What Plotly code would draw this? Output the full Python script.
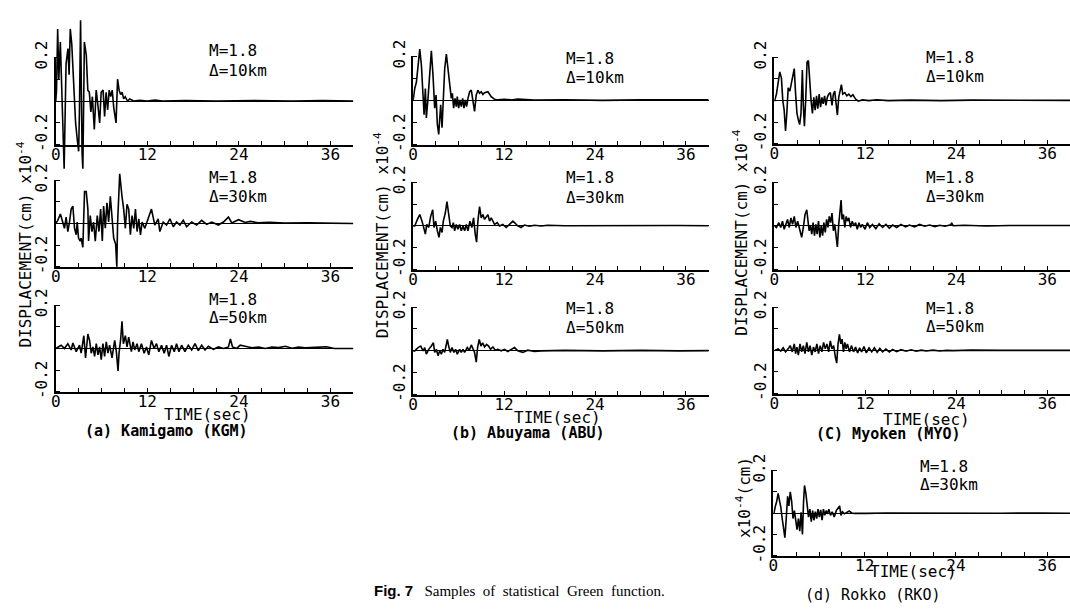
import plotly.graph_objects as go

# Displacement traces (x1e-4 cm) as (time in sec, value) turning points
KGM_10 = [(0.0, 0.0), (0.1, 0.05), (0.25, 0.33), (0.4, 0.1), (0.6, 0.27), (0.8, 0.0), (0.9, -0.05), (1.1, -0.31),
          (1.35, 0.17), (1.6, 0.24), (1.75, 0.12), (1.9, 0.33), (2.1, 0.26), (2.4, 0.0), (2.6, -0.1), (2.8, -0.17),
          (3.0, -0.23), (3.1, -0.05), (3.25, 0.37), (3.45, -0.24), (3.55, -0.31), (3.75, 0.27), (4.0, 0.21),
          (4.2, 0.05), (4.4, 0.04), (4.6, -0.05), (4.8, 0.02), (5.05, -0.13), (5.3, 0.05), (5.5, -0.01),
          (5.75, -0.1), (5.95, 0.04), (6.2, 0.05), (6.4, -0.07), (6.6, 0.04), (6.8, -0.04), (7.0, 0.05),
          (7.2, 0.02), (7.4, 0.05), (7.6, -0.03), (7.9, -0.1), (8.1, 0.1), (8.3, 0.05), (8.5, 0.03), (8.7, 0.04),
          (8.9, 0.01), (9.1, 0.02), (9.4, 0.0), (9.7, 0.01), (10.2, 0.0), (11.0, 0.003), (12.0, 0.0),
          (13.0, 0.005), (14.0, 0.0), (17.0, 0.002), (21.0, 0.0), (26.0, 0.002), (31.0, 0.0), (35.0, 0.002),
          (39.0, 0.0)]
KGM_30 = [(0.0, 0.0), (0.26, 0.015), (0.61, 0.044), (0.92, 0.007), (1.14, -0.022), (1.36, 0.03), (1.58, -0.037),
          (1.8, 0.007), (2.02, 0.067), (2.24, 0.081), (2.46, -0.022), (2.68, -0.052), (2.81, 0.007), (2.98, -0.067),
          (3.2, -0.081), (3.33, -0.067), (3.55, -0.11), (3.77, 0.148), (3.99, 0.148), (4.21, 0.067), (4.3, -0.081),
          (4.52, 0.037), (4.74, -0.037), (4.96, 0.007), (5.18, -0.081), (5.44, 0.037), (5.66, -0.037),
          (5.88, 0.067), (6.1, -0.081), (6.27, 0.081), (6.49, -0.022), (6.71, 0.096), (6.93, 0.007), (7.15, 0.126),
          (7.37, 0.037), (7.59, -0.067), (7.85, -0.096), (8.0, -0.2), (8.1, 0.0), (8.38, 0.23), (8.68, 0.126),
          (8.9, 0.067), (9.12, -0.022), (9.34, 0.089), (9.56, 0.067), (9.78, -0.052), (10.0, 0.037),
          (10.22, -0.022), (10.44, 0.067), (10.66, -0.037), (10.88, 0.022), (11.1, -0.052), (11.32, 0.007),
          (11.67, -0.022), (12.1, 0.022), (12.54, 0.067), (12.98, -0.007), (13.42, 0.022), (13.64, -0.037),
          (14.08, 0.007), (14.52, -0.007), (14.96, 0.022), (15.4, -0.015), (15.83, 0.007), (16.27, -0.007),
          (16.71, 0.015), (17.15, -0.015), (17.8, 0.007), (18.46, -0.007), (19.12, 0.015), (19.78, -0.004),
          (20.44, 0.007), (21.3, -0.007), (21.97, 0.007), (22.63, 0.03), (23.07, 0.003), (23.95, 0.018),
          (24.82, 0.005), (25.5, 0.01), (26.5, 0.004), (28.0, 0.006), (30.0, 0.002), (33.0, 0.003),
          (36.0, 0.001), (39.0, 0.0)]
KGM_50 = [(0.0, 0.0), (0.26, 0.007), (0.7, 0.015), (1.14, 0.0), (1.58, 0.022), (2.02, -0.007), (2.24, 0.025),
          (2.68, -0.015), (3.11, 0.015), (3.33, -0.022), (3.68, 0.059), (3.9, -0.044), (4.21, 0.067), (4.43, 0.037),
          (4.65, -0.022), (4.87, 0.007), (5.09, -0.037), (5.31, 0.022), (5.53, -0.03), (5.75, 0.007),
          (5.96, -0.052), (6.18, 0.022), (6.4, -0.037), (6.62, 0.03), (6.84, -0.022), (7.06, 0.015),
          (7.37, -0.044), (7.72, 0.037), (7.94, -0.015), (8.16, -0.104), (8.29, -0.022), (8.51, 0.044),
          (8.68, 0.126), (8.86, 0.022), (9.12, 0.059), (9.34, 0.007), (9.56, 0.052), (9.91, -0.015), (10.13, 0.03),
          (10.35, -0.007), (10.66, 0.022), (10.88, -0.015), (11.23, 0.022), (11.58, -0.022), (11.89, 0.007),
          (12.19, -0.03), (12.54, 0.037), (12.89, 0.0), (13.2, 0.022), (13.51, -0.015), (13.86, 0.015),
          (14.21, -0.022), (14.52, 0.015), (14.82, -0.037), (15.18, 0.015), (15.53, -0.015), (15.83, 0.022),
          (16.14, -0.015), (16.49, 0.015), (16.93, -0.015), (17.37, 0.015), (17.81, -0.007), (18.25, 0.022),
          (18.68, -0.01), (19.12, 0.015), (19.56, -0.007), (20.0, 0.01), (20.66, -0.004), (21.32, 0.007),
          (21.97, 0.0), (22.63, 0.007), (22.89, 0.044), (23.16, 0.007), (23.73, 0.0), (24.17, 0.015),
          (24.82, 0.01), (25.7, 0.003), (26.58, 0.007), (27.46, 0.0), (28.33, 0.007), (29.21, 0.004),
          (30.09, 0.01), (30.96, 0.001), (31.84, 0.007), (32.72, 0.003), (34.0, 0.005), (35.5, 0.008),
          (36.5, 0.0), (39.0, 0.0)]

ABU_10 = [(0.0, 0.0), (0.22, 0.055), (0.44, 0.084), (0.66, 0.173), (0.88, 0.233), (1.1, 0.159), (1.32, 0.01),
          (1.45, -0.064), (1.62, 0.055), (1.75, -0.079), (1.97, 0.01), (2.19, 0.114), (2.41, 0.225), (2.63, 0.114),
          (2.85, -0.034), (3.03, 0.025), (3.2, -0.108), (3.38, -0.153), (3.51, -0.049), (3.64, -0.019),
          (3.82, -0.123), (3.99, 0.01), (4.17, 0.144), (4.39, 0.21), (4.61, 0.144), (4.82, 0.099), (5.04, 0.01),
          (5.18, 0.033), (5.35, -0.034), (5.53, 0.01), (5.7, -0.027), (5.83, 0.018), (6.01, -0.034), (6.18, 0.003),
          (6.36, -0.027), (6.54, 0.01), (6.71, -0.034), (6.89, 0.003), (7.06, -0.027), (7.24, 0.01), (7.46, 0.04),
          (7.68, 0.047), (7.89, -0.004), (8.11, -0.049), (8.33, 0.025), (8.55, 0.047), (8.77, 0.033), (8.99, 0.04),
          (9.21, 0.028), (9.43, 0.036), (9.87, 0.04), (10.31, 0.018), (10.75, 0.006), (11.18, 0.003),
          (12.06, 0.006), (12.94, 0.003), (13.82, 0.007), (16.0, 0.002), (20.0, 0.004), (25.0, 0.001),
          (30.0, 0.003), (35.0, 0.002), (39.0, 0.003)]
ABU_30 = [(0.0, 0.0), (0.22, 0.0), (0.57, 0.03), (0.88, 0.052), (1.18, 0.022), (1.45, -0.015), (1.62, -0.037),
          (1.8, 0.007), (2.06, -0.007), (2.32, 0.044), (2.59, 0.074), (2.76, -0.007), (2.98, 0.022), (3.2, -0.022),
          (3.42, -0.052), (3.6, -0.007), (3.82, -0.03), (3.99, 0.022), (4.25, 0.059), (4.47, 0.111), (4.69, 0.052),
          (4.91, 0.0), (5.13, -0.007), (5.31, 0.015), (5.48, -0.022), (5.7, 0.007), (5.92, -0.015), (6.14, 0.007),
          (6.36, -0.022), (6.58, 0.0), (6.8, -0.022), (7.02, 0.007), (7.24, -0.022), (7.5, 0.022), (7.76, -0.007),
          (7.98, 0.037), (8.2, -0.037), (8.38, -0.074), (8.55, 0.022), (8.77, 0.089), (8.99, 0.037), (9.21, 0.052),
          (9.43, 0.03), (9.65, 0.044), (9.87, 0.052), (10.09, 0.022), (10.31, 0.037), (10.53, 0.022),
          (10.75, 0.007), (11.1, 0.015), (11.4, 0.0), (11.84, 0.007), (12.28, -0.007), (12.72, 0.007),
          (13.16, 0.022), (13.38, 0.015), (13.82, 0.0), (14.25, -0.007), (14.69, 0.004), (15.35, -0.001),
          (16.01, 0.003), (16.89, 0.0), (17.76, 0.003), (20.0, 0.001), (25.0, 0.002), (30.0, 0.0), (35.0, 0.002),
          (39.0, 0.001)]
ABU_50 = [(0.0, 0.0), (0.22, 0.0), (0.66, 0.015), (1.01, 0.022), (1.32, 0.0), (1.54, 0.015), (1.75, -0.015),
          (2.06, 0.007), (2.41, 0.022), (2.68, 0.037), (2.85, -0.007), (3.07, 0.007), (3.29, -0.022), (3.51, 0.0),
          (3.73, -0.015), (3.95, 0.007), (4.17, -0.007), (4.39, 0.03), (4.52, 0.052), (4.69, 0.022),
          (4.91, -0.007), (5.13, 0.015), (5.39, -0.007), (5.61, 0.007), (5.83, -0.015), (6.14, 0.007),
          (6.36, -0.007), (6.58, 0.007), (6.8, -0.007), (7.15, 0.015), (7.41, 0.003), (7.68, 0.027), (7.94, 0.007),
          (8.11, -0.007), (8.33, -0.052), (8.51, 0.015), (8.73, 0.052), (8.95, 0.022), (9.17, 0.037),
          (9.43, 0.018), (9.69, 0.03), (9.96, 0.022), (10.22, 0.007), (10.53, 0.018), (10.83, 0.003),
          (11.18, 0.007), (11.62, 0.0), (12.06, 0.007), (12.5, -0.003), (12.94, 0.007), (13.38, 0.015),
          (13.82, 0.0), (14.47, -0.007), (15.13, 0.003), (16.01, -0.003), (16.89, 0.0), (17.76, 0.001),
          (20.0, 0.002), (25.0, 0.0), (30.0, 0.002), (35.0, 0.0), (39.0, 0.001)]

MYO_10 = [(0.0, 0.0), (0.04, 0.0), (0.27, 0.03), (0.49, 0.074), (0.71, 0.133), (0.93, 0.104), (1.11, 0.0),
          (1.29, -0.044), (1.47, -0.141), (1.64, -0.059), (1.82, 0.059), (2.04, 0.044), (2.27, 0.089),
          (2.44, 0.119), (2.62, 0.148), (2.8, 0.03), (2.98, -0.059), (3.16, -0.089), (3.33, -0.111),
          (3.51, -0.059), (3.69, 0.141), (3.82, -0.022), (3.96, -0.119), (4.13, 0.0), (4.31, 0.178),
          (4.49, 0.185), (4.67, 0.074), (4.84, 0.0), (5.02, -0.059), (5.2, 0.015), (5.38, -0.044), (5.56, 0.022),
          (5.73, -0.037), (5.91, 0.03), (6.09, -0.03), (6.27, 0.015), (6.44, -0.015), (6.62, 0.022),
          (6.8, -0.022), (6.98, 0.015), (7.16, 0.03), (7.38, 0.037), (7.6, -0.022), (7.78, 0.03), (7.96, 0.044),
          (8.13, 0.0), (8.31, -0.067), (8.49, 0.015), (8.71, 0.059), (8.84, 0.074), (9.02, 0.03), (9.29, 0.037),
          (9.56, 0.022), (9.82, 0.03), (10.09, 0.018), (10.36, 0.027), (10.71, 0.007), (11.07, -0.003),
          (11.6, 0.003), (12.49, 0.0), (13.5, 0.004), (15.0, 0.0), (18.0, 0.002), (22.0, 0.0), (26.0, 0.002),
          (30.0, 0.001), (35.0, 0.002), (39.0, 0.001)]
MYO_30 = [(0.0, 0.0), (0.27, -0.007), (0.58, 0.015), (0.84, -0.007), (1.07, 0.022), (1.29, -0.015), (1.51, 0.007),
          (1.73, 0.03), (1.96, -0.007), (2.18, 0.037), (2.4, 0.007), (2.62, 0.044), (2.84, -0.007), (3.07, 0.022),
          (3.38, -0.022), (3.6, -0.052), (3.82, -0.007), (4.04, 0.052), (4.27, 0.074), (4.4, 0.03),
          (4.58, -0.022), (4.76, 0.0), (4.93, -0.037), (5.11, 0.015), (5.29, -0.044), (5.47, 0.007),
          (5.64, -0.037), (5.82, 0.022), (6.0, -0.052), (6.18, 0.0), (6.36, -0.044), (6.53, 0.015), (6.71, -0.03),
          (6.89, 0.03), (7.07, -0.007), (7.24, 0.044), (7.42, 0.015), (7.6, 0.059), (7.78, -0.022), (7.96, 0.007),
          (8.13, -0.044), (8.31, -0.096), (8.49, 0.007), (8.67, 0.074), (8.8, 0.119), (8.93, 0.03), (9.11, 0.052),
          (9.29, -0.007), (9.47, 0.044), (9.64, 0.022), (9.82, 0.037), (10.04, -0.007), (10.27, 0.022),
          (10.49, 0.0), (10.71, 0.015), (10.93, -0.015), (11.16, 0.015), (11.38, -0.007), (11.6, 0.007),
          (11.96, -0.015), (12.27, 0.015), (12.58, -0.007), (12.93, 0.007), (13.38, -0.012), (13.82, 0.01),
          (14.27, -0.007), (14.71, 0.007), (15.16, -0.01), (15.6, 0.004), (16.13, -0.007), (16.71, 0.007),
          (17.29, -0.004), (17.82, 0.004), (18.49, -0.004), (19.16, 0.007), (19.82, -0.001), (20.49, 0.004),
          (21.16, -0.003), (21.82, 0.003), (22.49, -0.001), (23.16, 0.004), (23.4, 0.012), (23.6, 0.001),
          (25.0, 0.003), (28.0, 0.0), (31.0, 0.002), (35.0, 0.001), (39.0, 0.002)]
MYO_50 = [(0.0, 0.0), (0.04, 0.0), (0.49, 0.007), (0.84, -0.003), (1.16, 0.012), (1.47, -0.007), (1.82, 0.007),
          (2.09, 0.022), (2.36, -0.007), (2.62, 0.03), (2.8, -0.015), (2.98, 0.015), (3.16, -0.022), (3.38, 0.03),
          (3.6, -0.007), (3.82, 0.022), (4.04, -0.015), (4.27, 0.037), (4.49, -0.007), (4.71, 0.022),
          (4.93, -0.022), (5.16, 0.015), (5.38, -0.007), (5.6, 0.03), (5.82, -0.015), (6.04, 0.022),
          (6.27, -0.007), (6.49, 0.037), (6.71, 0.007), (6.93, 0.03), (7.16, -0.007), (7.38, 0.044), (7.6, 0.007),
          (7.82, 0.022), (8.04, -0.03), (8.22, -0.059), (8.4, 0.03), (8.58, 0.074), (8.76, 0.03), (8.93, 0.052),
          (9.11, -0.007), (9.29, 0.037), (9.47, 0.007), (9.64, 0.03), (9.91, -0.007), (10.18, 0.022),
          (10.44, -0.007), (10.71, 0.015), (10.98, -0.012), (11.24, 0.012), (11.51, -0.007), (11.82, 0.018),
          (12.13, -0.012), (12.49, 0.012), (12.84, -0.007), (13.2, 0.012), (13.56, -0.009), (13.91, 0.009),
          (14.27, -0.007), (14.71, 0.006), (15.16, -0.007), (15.6, 0.004), (16.13, -0.006), (16.71, 0.003),
          (17.38, -0.004), (18.04, 0.003), (18.71, -0.004), (19.38, 0.001), (20.04, -0.003), (20.93, 0.001),
          (21.82, -0.003), (22.71, 0.0), (23.6, -0.001), (26.0, 0.001), (30.0, 0.0), (34.0, 0.001), (39.0, 0.0)]

RKO_30 = [(0.0, 0.0), (0.09, 0.004), (0.27, 0.034), (0.44, 0.056), (0.62, 0.093), (0.8, 0.064), (0.98, 0.027),
          (1.16, -0.025), (1.33, -0.084), (1.51, -0.114), (1.69, -0.025), (1.87, 0.079), (2.04, 0.034),
          (2.22, 0.1), (2.4, 0.056), (2.58, -0.025), (2.76, 0.012), (2.93, -0.047), (3.11, -0.077),
          (3.29, -0.025), (3.47, -0.084), (3.64, 0.004), (3.82, -0.099), (3.96, 0.049), (4.09, 0.13),
          (4.27, 0.093), (4.44, 0.049), (4.62, -0.018), (4.8, 0.019), (4.98, -0.04), (5.16, 0.012),
          (5.33, -0.033), (5.51, 0.007), (5.69, -0.025), (5.87, 0.019), (6.04, -0.018), (6.22, 0.016),
          (6.4, -0.033), (6.58, 0.019), (6.76, -0.01), (6.93, 0.012), (7.11, -0.003), (7.29, 0.019),
          (7.51, -0.01), (7.73, 0.007), (8.0, -0.018), (8.27, 0.012), (8.53, 0.027), (8.71, 0.034),
          (8.89, -0.01), (9.07, 0.007), (9.33, -0.003), (9.6, 0.004), (9.96, 0.01), (10.31, 0.001),
          (10.67, -0.001), (11.29, 0.0), (12.18, -0.001), (15.0, 0.001), (20.0, 0.0), (25.0, 0.001),
          (30.0, 0.0), (35.0, 0.001), (39.0, 0.0)]

MAGNITUDE = "M=1.8"
TIME_TICKS = [0, 3, 6, 9, 12, 15, 18, 21, 24, 27, 30, 33, 36, 39]
TIME_TICK_TEXT = ["0", "", "", "", "12", "", "", "", "24", "", "", "", "36", ""]
DISP_TICKS = [-0.2, -0.1, 0, 0.1, 0.2]
DISP_TICK_TEXT = ["-0.2", "0.2"]
STATIONS = ["(a) Kamigamo (KGM)", "(b) Abuyama (ABU)", "(C) Myoken (MYO)", "(d) Rokko (RKO)"]

# Figure geometry, all in pixels of the 1070x611 page
W, H = 1070, 611
X_MAX = 39.0
MONO = "DejaVu Sans Mono"
DISP_LABEL_POS = [-0.156, 0.2]   # "-0.2" sits just above its tick in the original

# trace, distance, frame left, right, top(0.2), bottom(-0.2), label x, "M" line y, "delta" line y
PANELS = [
    (KGM_10, "10", 51, 350, 42, 133, 203, 35, 56),
    (KGM_30, "30", 51, 350, 170, 260, 203, 167, 187),
    (KGM_50, "50", 51, 350, 300, 390, 203, 294, 313),
    (ABU_10, "10", 410, 707, 41, 133, 562, 43, 63),
    (ABU_30, "30", 410, 707, 172, 263, 562, 167, 188),
    (ABU_50, "50", 410, 707, 302, 393, 562, 303, 323),
    (MYO_10, "10", 773, 1070, 42, 132, 923, 42, 62),
    (MYO_30, "30", 773, 1070, 172, 263, 923, 167, 187),
    (MYO_50, "50", 773, 1070, 302, 392, 923, 303, 322),
    (RKO_30, "30", 772, 1070, 472, 561, 917, 468, 487),
]


def px(x):
    return x / W


def py(y):
    return 1 - y / H


fig = go.Figure()
layout = {}
annotations = []
tick_font = dict(family=MONO, size=16, color="black")

for i, (trace, dist, left, right, top, bottom, lx, m_y, d_y) in enumerate(PANELS):
    fa = 2 * i + 1   # visible frame axes
    ta = 2 * i + 2   # hidden axes carrying the trace, taller so peaks can leave the frame
    xdom = [px(left), px(right)]
    h = bottom - top
    ext_top = max(top - h * 0.45, 0.5)
    ext_bot = bottom + h * 0.35
    y_hi = 0.2 + (top - ext_top) / h * 0.4
    y_lo = -0.2 - (ext_bot - bottom) / h * 0.4

    layout[f"xaxis{fa}"] = dict(domain=xdom, range=[0, X_MAX], anchor=f"y{fa}", showline=True,
                                linecolor="black", linewidth=1.8, ticks="inside", ticklen=4,
                                tickcolor="black", tickwidth=1.3, tickvals=TIME_TICKS,
                                ticktext=TIME_TICK_TEXT, ticklabelstandoff=-6, showgrid=False,
                                zeroline=False, tickfont=tick_font, fixedrange=True)
    layout[f"yaxis{fa}"] = dict(domain=[py(bottom), py(top)], range=[-0.2, 0.2], anchor=f"x{fa}",
                                showline=True, linecolor="black", linewidth=1.8, ticks="",
                                tickvals=DISP_LABEL_POS, ticktext=DISP_TICK_TEXT, tickangle=-90,
                                minor=dict(tickvals=DISP_TICKS, ticks="inside", ticklen=4,
                                           tickcolor="black", tickwidth=1.3),
                                showgrid=False, zeroline=True, zerolinecolor="black", zerolinewidth=1.2,
                                tickfont=tick_font, fixedrange=True)
    layout[f"xaxis{ta}"] = dict(domain=xdom, range=[0, X_MAX], anchor=f"y{ta}", visible=False,
                                fixedrange=True)
    layout[f"yaxis{ta}"] = dict(domain=[py(ext_bot), py(ext_top)], range=[y_lo, y_hi], anchor=f"x{ta}",
                                visible=False, fixedrange=True)

    # empty trace so the frame subplot (axes, ticks, zero line) gets drawn
    fig.add_trace(go.Scatter(x=[], y=[], mode="lines", xaxis=f"x{fa}", yaxis=f"y{fa}",
                             showlegend=False, hoverinfo="skip"))
    t, v = zip(*trace)
    fig.add_trace(go.Scatter(x=t, y=v, mode="lines", xaxis=f"x{ta}", yaxis=f"y{ta}",
                             line=dict(color="black", width=1.6), showlegend=False, hoverinfo="skip"))

    annotations.append(dict(x=px(lx), y=py(m_y), text=MAGNITUDE, xanchor="left", yanchor="middle"))
    annotations.append(dict(x=px(lx), y=py(d_y), text=f"\u0394={dist}km", xanchor="left", yanchor="middle"))

# axis titles, time labels and station captions
for x, y, text in [(20, 237, "DISPLACEMENT(cm) x10<sup>-4</sup>"),
                   (378, 227, "DISPLACEMENT(cm) x10<sup>-4</sup>"),
                   (739, 225, "DISPLACEMENT(cm) x10<sup>-4</sup>"),
                   (742, 500, "x10<sup>-4</sup>(cm)")]:
    annotations.append(dict(x=px(x), y=py(y), text=text, textangle=-90, xanchor="center", yanchor="middle"))

for x, y in [(203, 414), (555, 417), (926, 419), (913, 577)]:
    annotations.append(dict(x=px(x), y=py(y), text="TIME(sec)", xanchor="center", yanchor="middle"))

for (x, y), text in zip([(162, 431), (525, 433), (888, 434), (872, 602)], STATIONS):
    bold = not text.startswith("(d)")
    annotations.append(dict(x=px(x), y=py(y), text=f"<b>{text}</b>" if bold else text,
                            xanchor="center", yanchor="middle",
                            font=dict(family=MONO, size=15, color="black")))

annotations.append(dict(x=px(517), y=py(597), xanchor="center", yanchor="middle",
                        text='<span style="font-family:Liberation Sans"><b>Fig. 7</b></span>'
                             '   Samples  of  statistical  Green  function.',
                        font=dict(family="Liberation Serif", size=15, color="black")))

for a in annotations:
    a.setdefault("font", dict(family=MONO, size=16, color="black"))
    a.update(xref="paper", yref="paper", showarrow=False)

fig.update_layout(width=W, height=H, margin=dict(l=0, r=0, t=0, b=0), paper_bgcolor="white",
                  plot_bgcolor="rgba(0,0,0,0)", showlegend=False, annotations=annotations, **layout)

fig.write_html("out.html", config={"displayModeBar": False},
               post_script="document.body.style.margin='0';")
